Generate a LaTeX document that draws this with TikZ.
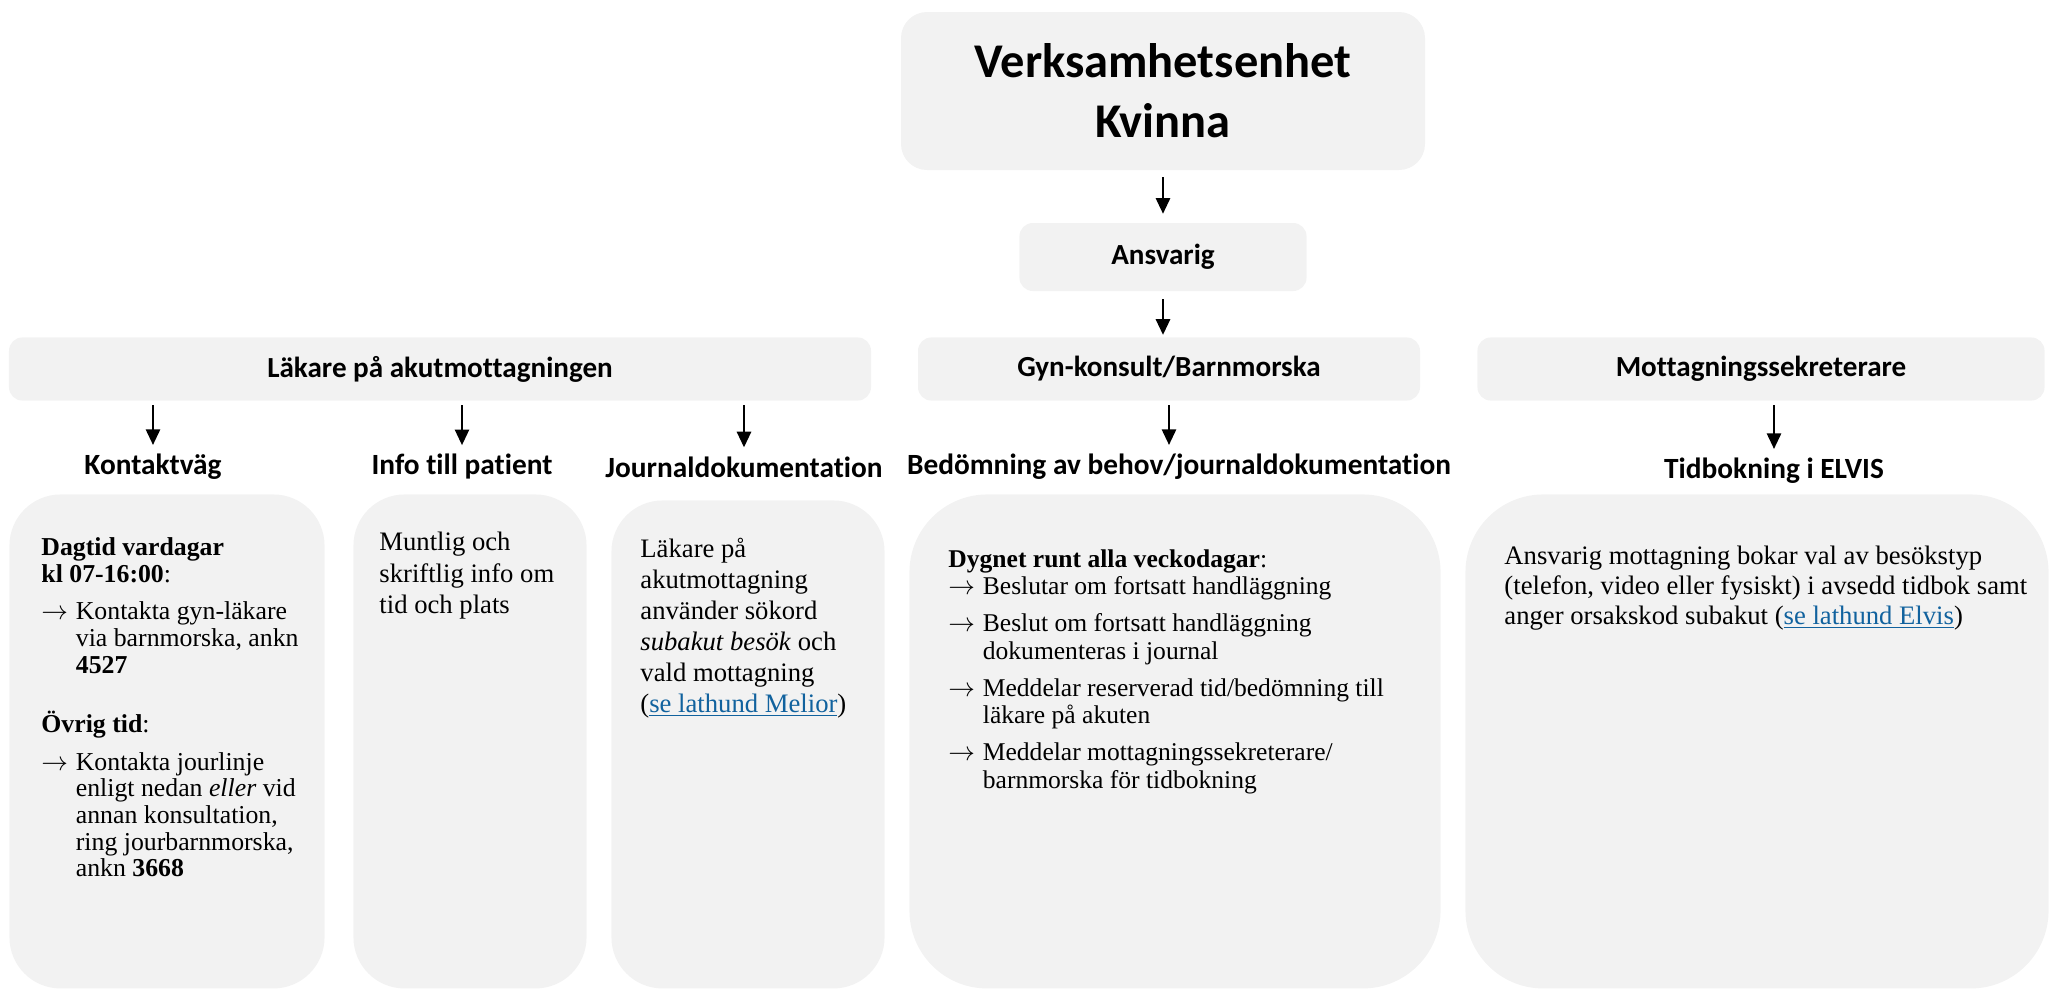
\documentclass[tikz,border=0pt]{standalone}
\usepackage{fontspec}
\setmainfont{Liberation Serif}
\newfontfamily\calibri[Ligatures=NoCommon]{Carlito}
\usetikzlibrary{arrows.meta}
\definecolor{boxgray}{RGB}{242,242,242}
\definecolor{linkblue}{RGB}{17,98,158}
\newcommand{\lank}[1]{\textcolor{linkblue}{\underline{#1}}}
\newcommand{\pil}{\makebox[15.5pt][l]{$\rightarrow$}}
\newcommand{\ind}{\hspace*{15.5pt}}

\begin{document}
\begin{tikzpicture}[x=0.45pt,y=-0.45pt,
    head/.style={fill=boxgray, rounded corners=6pt, minimum height=28.4pt,
      font=\calibri\bfseries\fontsize{13.1}{15.5}\selectfont},
    sub/.style={inner sep=2pt, font=\calibri\bfseries\fontsize{13.2}{15.5}\selectfont},
    card/.style={fill=boxgray, anchor=north west, inner sep=0pt, minimum height=222.3pt},
    body/.style={anchor=north west, align=left, inner sep=0pt},
    pil/.style={-{Triangle[length=7pt,width=6.5pt]}, line width=0.6pt}]
    \useasboundingbox (0,0) rectangle (2051,993);

    % top of the chart
    \node[head, rounded corners=11.7pt, minimum width=235.8pt, minimum height=71.1pt,
      align=center, font=\calibri\bfseries\fontsize{21.8}{27}\selectfont]
      (top) at (1163,91) {Verksamhetsenhet\\Kvinna};
    \node[head, minimum width=129.2pt, minimum height=30.6pt] (ans) at (1163,257) {Ansvarig};

    % roles
    \node[head, minimum width=387.9pt] (lak) at (440,369)  {Läkare på akutmottagningen};
    \node[head, minimum width=225.9pt] (gyn) at (1169,369) {Gyn-konsult/Barnmorska};
    \node[head, minimum width=255.2pt] (mot) at (1761,369) {Mottagningssekreterare};

    % sub headings
    \node[sub] (kv)  at (153,467)  {Kontaktväg};
    \node[sub] (inf) at (462,467)  {Info till patient};
    \node[sub] (jd)  at (744,467)  {Journaldokumentation};
    \node[sub] (bed) at (1179,467) {Bedömning av behov/journaldokumentation};
    \node[sub] (tid) at (1774,471) {Tidbokning i ELVIS};

    % cards
    \node[card, minimum width=141.8pt, rounded corners=23pt] (k1) at (9,494) {};
    \node[card, minimum width=104.9pt, rounded corners=23pt] (k2) at (353,494) {};
    \node[card, minimum width=122.9pt, minimum height=219.6pt, rounded corners=23pt] (k3) at (611,500) {};
    \node[card, minimum width=239.0pt, rounded corners=35pt] (k4) at (909,494) {};
    \node[card, minimum width=262.4pt, rounded corners=35pt] (k5) at (1465,494) {};

    \node[body, font=\fontsize{11.6}{12}\selectfont] (t1) at (41,537) {%
      \textbf{Dagtid vardagar}\\
      \textbf{kl 07-16:00}:\\[5pt]
      \pil Kontakta gyn-läkare\\
      \ind via barnmorska, ankn\\
      \ind\textbf{4527}\\[14.6pt]
      \textbf{Övrig tid}:\\[5pt]
      \pil Kontakta jourlinje\\
      \ind enligt nedan \textit{eller} vid\\
      \ind annan konsultation,\\
      \ind ring jourbarnmorska,\\
      \ind ankn \textbf{3668}};
    \node[body, font=\fontsize{12}{14}\selectfont] (t2) at (379,532) {%
      Muntlig och\\skriftlig info om\\tid och plats};
    \node[body, font=\fontsize{12}{13.9}\selectfont] (t3) at (640,538) {%
      Läkare på\\akutmottagning\\använder sökord\\\textit{subakut besök} och\\
      vald mottagning\\(\lank{se lathund Melior})};
    \node[body, font=\fontsize{11.5}{12.5}\selectfont] (t4) at (948,549) {%
      \textbf{Dygnet runt alla veckodagar}:\\
      \pil Beslutar om fortsatt handläggning\\[4pt]
      \pil Beslut om fortsatt handläggning\\
      \ind dokumenteras i journal\\[4pt]
      \pil Meddelar reserverad tid/bedömning till\\
      \ind läkare på akuten\\[4pt]
      \pil Meddelar mottagningssekreterare/\\
      \ind barnmorska för tidbokning};
    \node[body, font=\fontsize{12}{13.3}\selectfont] (t5) at (1504,546) {%
      Ansvarig mottagning bokar val av besökstyp\\
      (telefon, video eller fysiskt) i avsedd tidbok samt\\
      anger orsakskod subakut (\lank{se lathund Elvis})};

    % arrows
    \draw[pil, shorten <=3pt, shorten >=4pt] (top) -- (ans);
    \draw[pil, shorten <=3.5pt, shorten >=1pt] (ans) -- (ans |- gyn.north);
    \draw[pil, shorten <=2pt, shorten >=2pt] (lak.south -| kv.north)  -- (kv.north);
    \draw[pil, shorten <=2pt, shorten >=2pt] (lak.south -| inf.north) -- (inf.north);
    \draw[pil, shorten <=2pt, shorten >=2pt] (lak.south -| jd.north)  -- (jd.north);
    \draw[pil, shorten <=2pt, shorten >=2pt] (gyn.south) -- (gyn.south |- bed.north);
    \draw[pil, shorten <=2pt, shorten >=2pt] (mot.south -| tid.north) -- (tid.north);
\end{tikzpicture}
\end{document}
